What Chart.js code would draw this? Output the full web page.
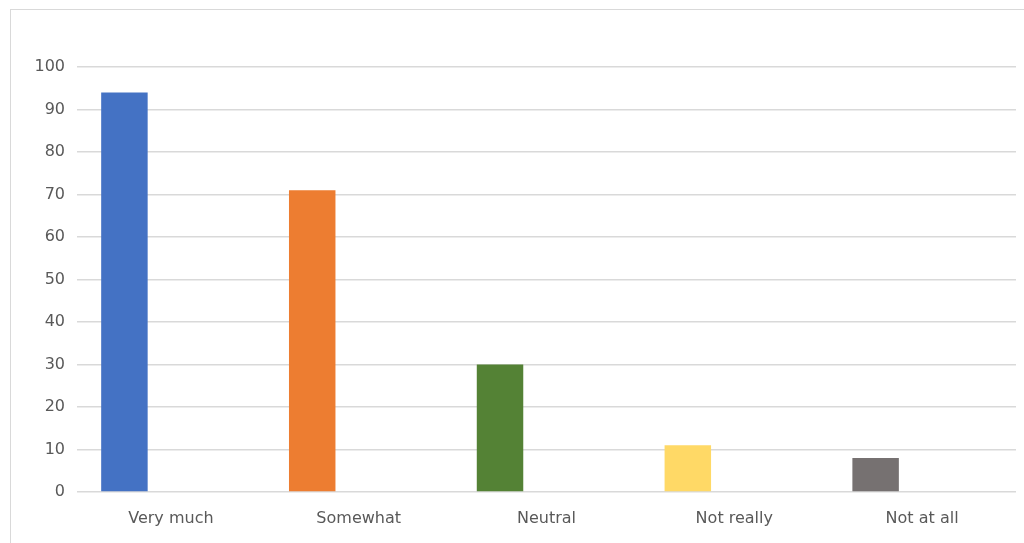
<!DOCTYPE html>
<html>
<head>
<meta charset="utf-8">
<script src="https://cdn.jsdelivr.net/npm/chart.js@4/dist/chart.umd.min.js"></script>
<style>
  html, body { margin: 0; padding: 0; background: #fff; }
  body { width: 1024px; height: 543px; position: relative; overflow: hidden; }
  .frame {
    position: absolute; left: 10px; top: 9px; width: 1030px; height: 560px;
    border: 1px solid #d9d9d9; box-sizing: border-box;
  }
  #grafico { position: absolute; left: 0; top: 0; }
</style>
</head>
<body>
<div class="frame"></div>
<canvas id="grafico" width="1024" height="543"></canvas>
<script>
  const categorias = ['Very much', 'Somewhat', 'Neutral', 'Not really', 'Not at all'];
  const respostas = [94, 71, 30, 11, 8];
  const vazio = [null, null, null, null, null]; // segunda série sem valores (ocupa o espaço ao lado)
  const cores = ['#4472C4', '#ED7D31', '#548235', '#FFD966', '#767171'];
  const ticksY = [0, 10, 20, 30, 40, 50, 60, 70, 80, 90, 100];

  const fonte = { family: 'DejaVu Sans', size: 16 };
  const ctx = document.getElementById('grafico').getContext('2d');

  new Chart(ctx, {
    type: 'bar',
    data: {
      labels: categorias,
      datasets: [
        {
          label: 'Respostas',
          data: respostas,
          backgroundColor: cores,
          borderWidth: 0,
          categoryPercentage: 0.99,
          barPercentage: 0.5
        },
        {
          label: '',
          data: vazio,
          backgroundColor: 'transparent',
          categoryPercentage: 0.99,
          barPercentage: 0.5
        }
      ]
    },
    options: {
      responsive: false,
      animation: false,
      layout: { padding: { top: 67, right: 8, left: 0, bottom: 0 } },
      plugins: { legend: { display: false }, tooltip: { enabled: false } },
      scales: {
        x: {
          grid: { display: false },
          border: { display: false },
          ticks: { color: '#595959', font: fonte, padding: 9, maxRotation: 0 },
          afterFit: axis => { axis.height = 51; }
        },
        y: {
          min: 0,
          max: 100,
          afterBuildTicks: axis => { axis.ticks = ticksY.map(v => ({ value: v })); },
          grid: { color: '#d9d9d9', lineWidth: 1.5, drawTicks: false },
          border: { display: false },
          ticks: { color: '#595959', font: fonte, padding: 12 },
          afterFit: axis => { axis.width = 77; }
        }
      }
    }
  });
</script>
</body>
</html>
